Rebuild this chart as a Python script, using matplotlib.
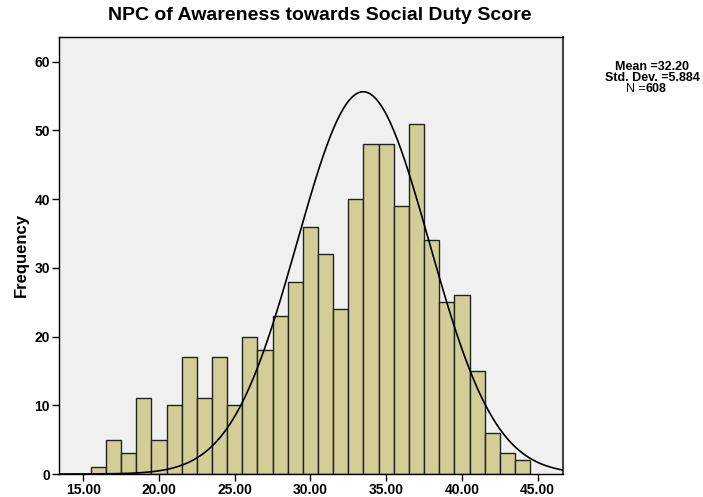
import numpy as np
import matplotlib
matplotlib.use("Agg")
import matplotlib.pyplot as plt

# Data
bin_centers = [16, 17, 18, 19, 20, 21, 22, 23, 24, 25, 26, 27, 28, 29, 30,
               31, 32, 33, 34, 35, 36, 37, 38, 39, 40, 41, 42, 43, 44]
counts = [1, 5, 3, 11, 5, 10, 17, 11, 17, 10, 20, 18, 23, 28, 36,
          32, 24, 40, 48, 48, 39, 51, 34, 25, 26, 15, 6, 3, 2]
bin_width = 1.0
x_ticks = [15, 20, 25, 30, 35, 40, 45]
x_tick_labels = ["15.00", "20.00", "25.00", "30.00", "35.00", "40.00", "45.00"]
y_ticks = [0, 10, 20, 30, 40, 50, 60]

# Normal curve as drawn in the picture
curve_mean = 33.48
curve_sd = 4.36
n_total = 608
stat_mean = "32.20"
stat_sd = "5.884"

plt.rcParams['font.family'] = ['Liberation Sans', 'DejaVu Sans']

W, H = 703, 497
fig = plt.figure(figsize=(W / 100, H / 100), dpi=100)
ax = fig.add_axes([59 / W, 23 / H, (562.7 - 59) / W, (474 - 37) / H])
ax.set_facecolor('#F0F0F0')

ax.bar(bin_centers, counts, width=bin_width, color='#D3CE98',
       edgecolor='#222222', linewidth=1.0, zorder=2)

xlim = (13.40, 46.65)
xs = np.linspace(xlim[0], xlim[1], 400)
ys = n_total * bin_width / (curve_sd * np.sqrt(2 * np.pi)) * np.exp(-0.5 * ((xs - curve_mean) / curve_sd) ** 2)
ax.plot(xs, ys, color='black', linewidth=1.2, zorder=3)

ax.set_xlim(*xlim)
ax.set_ylim(0, 63.6)
ax.set_xticks(x_ticks)
ax.set_xticklabels(x_tick_labels, fontsize=10, fontweight='bold')
ax.set_yticks(y_ticks)
ax.set_yticklabels([str(v) for v in y_ticks], fontsize=10, fontweight='bold')
ax.tick_params(axis='both', direction='out', length=5, width=1, color='black')
ax.tick_params(axis='x', pad=1.5)
ax.tick_params(axis='y', pad=1.5)
for s in ax.spines.values():
    s.set_color('black')
    s.set_linewidth(1.0)
ax.spines['right'].set_color('#444444')
ax.spines['right'].set_linewidth(1.5)

fig.text(21 / W, 1 - 255 / H, 'Frequency', rotation=90, ha='center', va='center',
         fontsize=12, fontweight='bold')
fig.text(320 / W, 1 - 16 / H, 'NPC of Awareness towards Social Duty Score',
         ha='center', va='center', fontsize=14, fontweight='bold')

fig.text(652 / W, 1 - 67 / H, f'Mean ={stat_mean}', ha='center', va='center',
         fontsize=9, fontweight='bold')
fig.text(652 / W, 1 - 78 / H, f'Std. Dev. ={stat_sd}', ha='center', va='center',
         fontsize=9, fontweight='bold')
fig.text(646 / W, 1 - 89 / H, 'N =', ha='right', va='center', fontsize=9)
fig.text(646 / W, 1 - 89 / H, f'{n_total}', ha='left', va='center',
         fontsize=9, fontweight='bold')

fig.savefig('out.png', dpi=100)
